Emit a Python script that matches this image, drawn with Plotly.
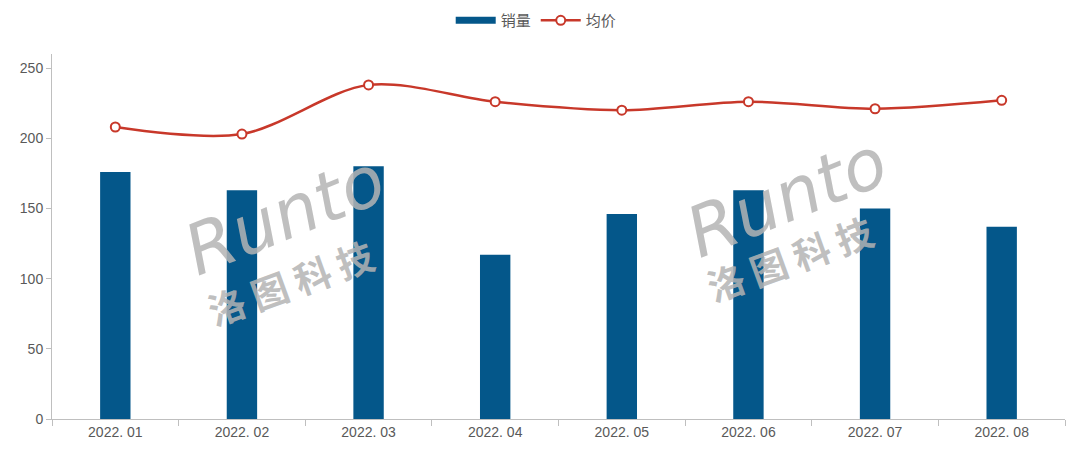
import plotly.graph_objects as go

months = ["2022. 01", "2022. 02", "2022. 03", "2022. 04", "2022. 05", "2022. 06", "2022. 07", "2022. 08"]
sales = [176, 163, 180, 117, 146, 163, 150, 137]
avg_price = [208, 203, 238, 226, 220, 226, 221, 227]

font_family = "Noto Sans CJK SC, Noto Sans, sans-serif"
grey = "#595959"
bar_color = "#04578A"
line_color = "#C8382A"
wm_color = "rgba(180,180,180,0.85)"

fig = go.Figure()
fig.add_trace(go.Bar(
    x=months, y=sales, name="销量", showlegend=False,
    marker=dict(color=bar_color, line=dict(width=0)),
))
# legend entry for bars (wide rectangle swatch)
fig.add_trace(go.Scatter(
    x=[None], y=[None], name="销量", mode="lines",
    line=dict(color=bar_color, width=7),
))
fig.add_trace(go.Scatter(
    x=months, y=avg_price, name="均价", mode="lines+markers",
    line=dict(color=line_color, width=2.5, shape="spline", smoothing=0.9),
    marker=dict(symbol="circle", size=9, color="white", line=dict(color=line_color, width=2)),
))

wm = [((0.230, 0.559), (0.235, 0.375)), ((0.726, 0.608), (0.728, 0.441))]
for (rx, ry), (cx, cy) in wm:
    fig.add_annotation(
        x=rx, y=ry, xref="paper", yref="paper", showarrow=False,
        xanchor="center", yanchor="middle",
        text="<i>Runto</i>", textangle=-22,
        font=dict(family="DejaVu Sans, sans-serif", size=70, color=wm_color))
    fig.add_annotation(
        x=cx, y=cy, xref="paper", yref="paper", showarrow=False,
        xanchor="center", yanchor="middle",
        text="<b>洛 图 科 技</b>", textangle=-20,
        font=dict(family=font_family, size=37, color=wm_color))

fig.update_layout(
    width=1080, height=458,
    margin=dict(l=52, r=15, t=54, b=39),
    paper_bgcolor="white", plot_bgcolor="white",
    bargap=0.76,
    font=dict(family=font_family, color=grey, size=14),
    legend=dict(orientation="h", x=0.478, xanchor="center", yref="container", y=0.955, yanchor="middle",
                font=dict(size=15, color=grey), traceorder="normal", itemwidth=40),
    showlegend=True,
)
fig.update_xaxes(
    showline=True, linecolor="#BFBFBF", linewidth=1,
    ticks="outside", tickson="boundaries", ticklen=6, tickcolor="#BFBFBF",
    showgrid=False, tickfont=dict(size=14, color=grey, family="Liberation Sans, sans-serif"),
)
fig.update_yaxes(
    range=[0, 260], tickvals=[0, 50, 100, 150, 200, 250],
    showline=True, linecolor="#BFBFBF", linewidth=1,
    ticks="outside", ticklen=5, tickcolor="#BFBFBF",
    showgrid=False, zeroline=False,
    tickfont=dict(size=14, color=grey, family="Liberation Sans, sans-serif"),
)

fig.write_html("out.html", config={"displayModeBar": False},
               post_script="document.body.style.margin='0px';")
